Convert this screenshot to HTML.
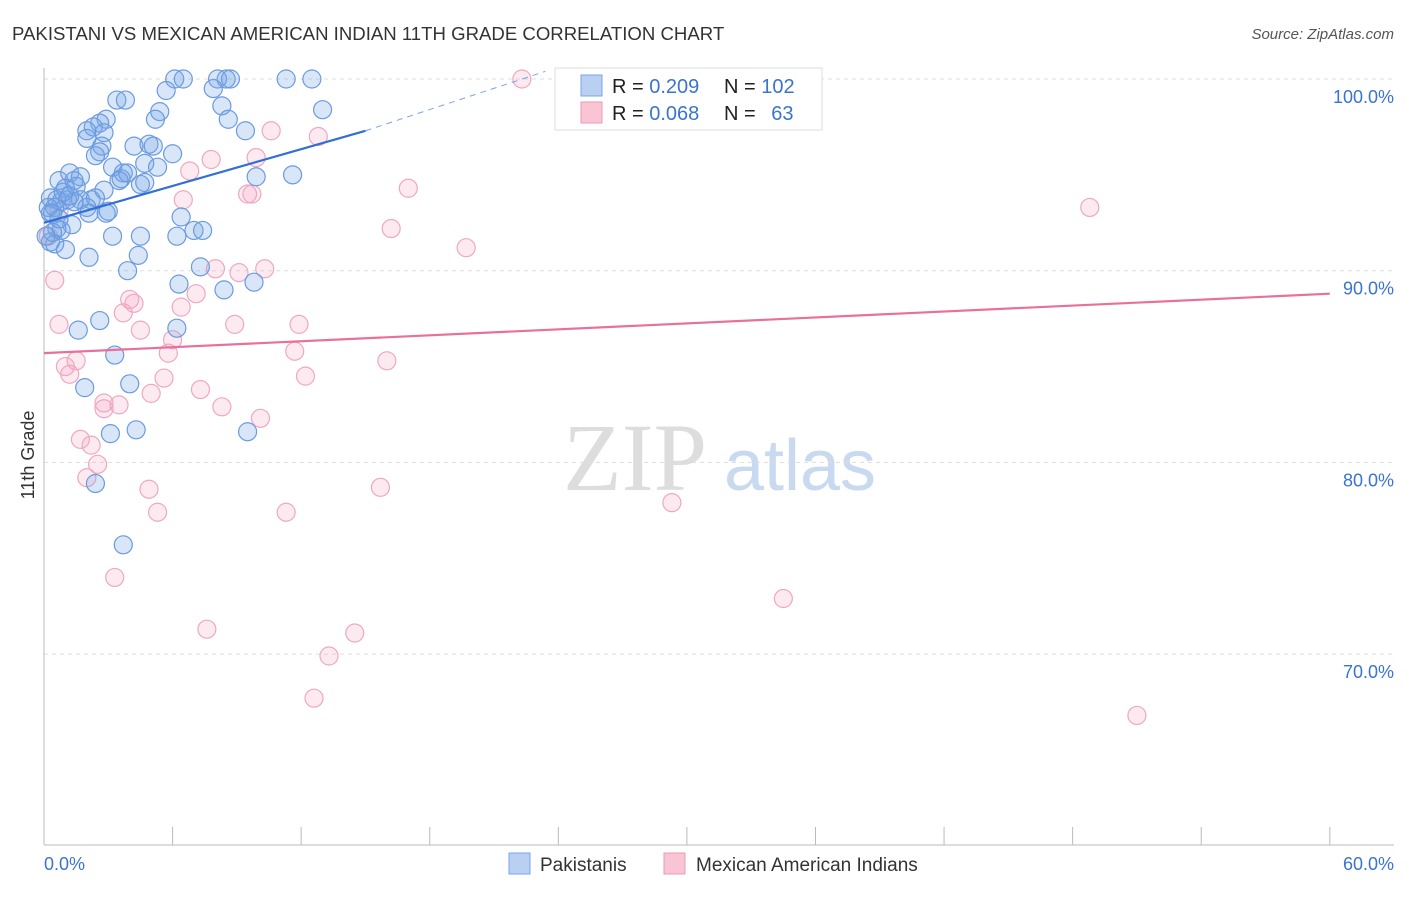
<!DOCTYPE html>
<html><head><meta charset="utf-8"><style>
body{margin:0;background:#fff;font-family:"Liberation Sans",sans-serif}
svg text{font-family:"Liberation Sans",sans-serif}
</style></head><body>
<svg id="chart" width="1406" height="892">
<text x="12" y="40" font-size="18.6" fill="#333">PAKISTANI VS MEXICAN AMERICAN INDIAN 11TH GRADE CORRELATION CHART</text>
<text x="1394" y="39" font-size="15" fill="#555" text-anchor="end" font-style="italic">Source: ZipAtlas.com</text>
<g><text x="635" y="490" font-size="96" fill="#ddd" text-anchor="middle" font-family="Liberation Serif" style="font-family:'Liberation Serif',serif">ZIP</text><text x="800" y="490" font-size="72" fill="#c8d9f0" text-anchor="middle">atlas</text></g>
<g id="grid"></g><g id="axes"></g><g id="pts"></g><g id="trend"></g>
<text x="34" y="455" font-size="18" fill="#333" transform="rotate(-90 34 455)" text-anchor="middle">11th Grade</text>
<text x="44" y="870" font-size="18" fill="#3a74d0">0.0%</text>
<text x="1394" y="870" font-size="18" fill="#3a74d0" text-anchor="end">60.0%</text>
<g>
<rect x="555" y="68" width="267" height="62" fill="#fff" stroke="#ddd"/>
<rect x="581" y="75" width="21" height="21" fill="#b9d0f3" stroke="#7aa5e6"/>
<rect x="581" y="102" width="21" height="21" fill="#f9c5d5" stroke="#ed9ab5"/>
<text x="612" y="93" font-size="20" fill="#222">R = <tspan fill="#3a74d0">0.209</tspan></text>
<text x="724" y="93" font-size="20" fill="#222">N = <tspan fill="#3a74d0">102</tspan></text>
<text x="612" y="120" font-size="20" fill="#222">R = <tspan fill="#3a74d0">0.068</tspan></text>
<text x="724" y="120" font-size="20" fill="#222">N = <tspan fill="#3a74d0" dx="10">63</tspan></text>
</g>
<g>
<rect x="509" y="853" width="21" height="21" fill="#b9d0f3" stroke="#7aa5e6"/>
<text x="540" y="871" font-size="19" fill="#333">Pakistanis</text>
<rect x="664" y="853" width="21" height="21" fill="#f9c5d5" stroke="#ed9ab5"/>
<text x="696" y="871" font-size="19" fill="#333">Mexican American Indians</text>
</g>
</svg>
<script>
const yTicks=[100,90,80,70];
const yTickLabels=["100.0%","90.0%","80.0%","70.0%"];
const blueX=[6.1,6.5,8.1,8.5,8.7,11.3,12.5,5.7,7.9,3.4,3.8,5.4,8.3,13.0,5.2,2.9,2.6,2.3,2.0,2.8,9.4,2.0,8.6,4.2,4.9,5.1,6.0,2.7,2.6,2.4,4.7,5.3,3.2,3.7,3.6,3.9,9.9,11.6,1.2,1.7,0.7,1.4,1.0,1.5,2.8,4.5,4.7,3.5,0.3,0.6,0.8,1.1,1.7,2.2,2.4,1.4,0.5,2.0,2.9,3.0,0.3,6.4,1.3,0.6,0.8,7.0,7.4,3.2,4.5,6.2,0.3,0.5,1.0,2.1,4.4,3.9,7.3,6.3,8.4,9.8,2.6,1.6,6.2,3.3,1.9,4.0,3.1,4.3,9.5,2.4,3.7,0.2,0.4,0.9,1.2,0.4,0.1,0.7,2.1];
const blueY=[100,100,100,100,100,100,100,99.4,99.5,98.9,98.9,98.3,98.6,98.4,97.9,97.9,97.7,97.5,97.3,97.2,97.3,96.9,97.9,96.5,96.6,96.5,96.1,96.5,96.2,96.0,95.6,95.4,95.4,95.1,94.8,95.1,94.9,95.0,95.1,94.9,94.7,94.7,94.3,94.4,94.2,94.5,94.6,94.7,93.8,93.7,93.6,93.7,93.7,93.7,93.8,93.6,93.3,93.3,93.0,93.1,93.0,92.8,92.4,92.2,92.1,92.1,92.1,91.8,91.8,91.8,91.5,91.4,91.1,90.7,90.8,90.0,90.2,89.3,89.0,89.4,87.4,86.9,87.0,85.6,83.9,84.1,81.5,81.7,81.6,78.9,75.7,93.3,93.0,94.1,93.9,92.0,91.8,92.7,93.0];
const pinkX=[22.3,26.2,28.7,31.6,10.6,12.8,7.8,9.9,6.8,9.5,9.7,17.0,6.5,16.2,19.7,48.8,0.5,8.0,9.1,10.3,4.0,4.2,6.4,7.1,0.7,3.7,4.5,6.0,8.9,11.9,5.8,11.7,16.0,1.5,1.0,1.2,5.6,12.2,5.0,7.3,2.8,3.5,2.8,8.3,10.1,1.7,2.2,2.5,2.0,4.9,15.7,5.3,11.3,29.3,3.3,34.5,7.6,14.5,13.3,12.6,51.0,0.7,0.2];
const pinkY=[100,100,100,100,97.3,97.0,95.8,95.9,95.2,94.0,94.0,94.3,93.7,92.2,91.2,93.3,89.5,90.1,89.9,90.1,88.5,88.3,88.1,88.8,87.2,87.8,86.9,86.4,87.2,87.2,85.7,85.8,85.3,85.3,85.0,84.6,84.4,84.5,83.6,83.8,83.1,83.0,82.8,82.9,82.3,81.2,80.9,79.9,79.2,78.6,78.7,77.4,77.4,77.9,74.0,72.9,71.3,71.1,69.9,67.7,66.8,93.1,91.8];
const blueTrendX=[0,15,23.4];
const blueTrendY=[92.5,97.3,100.4];
const pinkTrendX=[0,60];
const pinkTrendY=[85.7,88.8];
const NS='http://www.w3.org/2000/svg';
const sx=v=>44+v*21.43, sy=v=>79+(100-v)*19.17;
function mk(tag,attrs,parent){const e=document.createElementNS(NS,tag);for(const k in attrs)e.setAttribute(k,attrs[k]);document.getElementById(parent).appendChild(e);return e;}
yTicks.forEach((t,i)=>{
 const l=mk('line',{x1:44,x2:1394,y1:sy(t),y2:sy(t),stroke:'#ddd','stroke-dasharray':'4 4'},'grid');
 
 
 const tx=mk('text',{x:1394,y:sy(t)+24,'font-size':18,fill:'#3a74d0','text-anchor':'end'},'grid');
 tx.textContent=yTickLabels[i];
 
 
});
const ax=mk('line',{x1:44,x2:44,y1:68,y2:845,stroke:'#bbb'},'axes');


const bx=mk('line',{x1:44,x2:1394,y1:845,y2:845,stroke:'#bbb'},'axes');


for(let i=0;i<=10;i++){const t=mk('line',{x1:sx(i*6),x2:sx(i*6),y1:827,y2:845,stroke:'#bbb'},'axes');
 
 }
function pts(X,Y,fill,stroke,name){X.forEach((x,i)=>{const c=mk('circle',{cx:sx(x),cy:sy(Y[i]),r:9,fill:fill,stroke:stroke,'stroke-width':1.2},'pts');
 
 });}
pts(pinkX,pinkY,'rgba(245,160,190,0.22)','#eea8c0','mexican-american-indian-point');
pts(blueX,blueY,'rgba(120,165,230,0.28)','#6a9be0','pakistani-point');
const b1=mk('line',{x1:sx(blueTrendX[0]),y1:sy(blueTrendY[0]),x2:sx(blueTrendX[1]),y2:sy(blueTrendY[1]),stroke:'#2f6fd6','stroke-width':2.2},'trend');


const b2=mk('line',{x1:sx(blueTrendX[1]),y1:sy(blueTrendY[1]),x2:sx(blueTrendX[2]),y2:sy(blueTrendY[2]),stroke:'#7aa5e6','stroke-width':1,'stroke-dasharray':'6 5'},'trend');


const p1=mk('line',{x1:sx(pinkTrendX[0]),y1:sy(pinkTrendY[0]),x2:sx(pinkTrendX[1]),y2:sy(pinkTrendY[1]),stroke:'#e8709a','stroke-width':2.2},'trend');


</script>
</body></html>
